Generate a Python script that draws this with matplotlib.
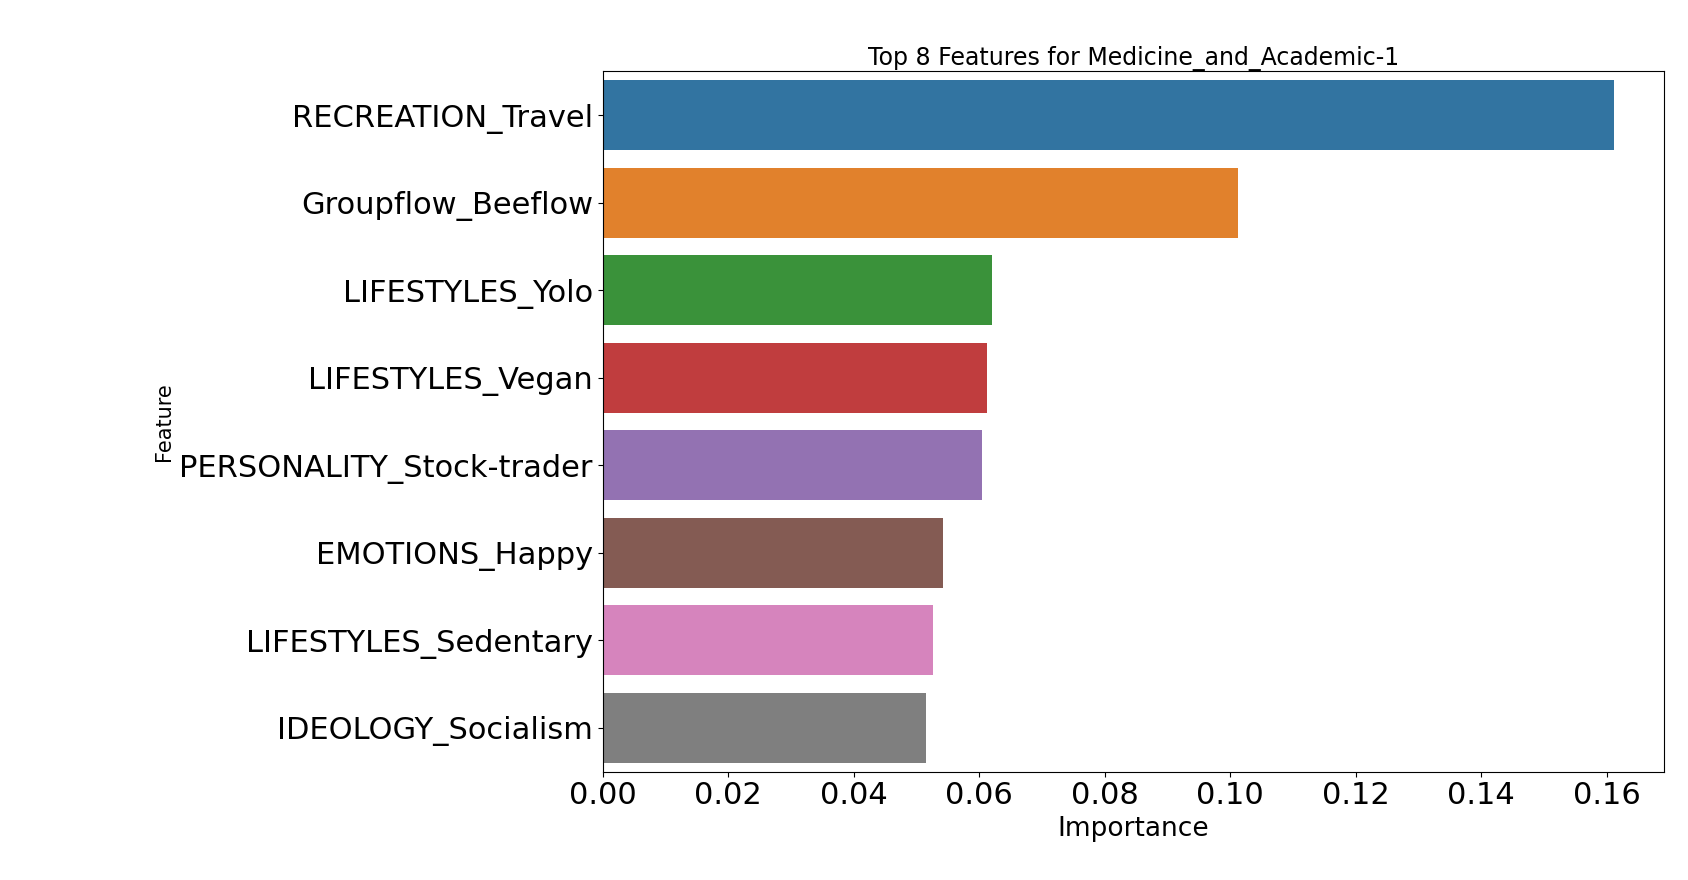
import matplotlib
matplotlib.use("Agg")
import matplotlib.pyplot as plt
import seaborn as sns
import pandas as pd

features = ["RECREATION_Travel", "Groupflow_Beeflow", "LIFESTYLES_Yolo", "LIFESTYLES_Vegan",
            "PERSONALITY_Stock-trader", "EMOTIONS_Happy", "LIFESTYLES_Sedentary", "IDEOLOGY_Socialism"]
importance = [0.1611, 0.1013, 0.0620, 0.0612, 0.0605, 0.0543, 0.0527, 0.0515]

df = pd.DataFrame({"Feature": features, "Importance": importance})

fig = plt.figure(figsize=(16.88, 8.8), dpi=100)
ax = fig.add_axes([0.357, 0.123, 0.629, 0.796])
sns.barplot(data=df, x="Importance", y="Feature", hue="Feature", palette="tab10",
            saturation=0.75, legend=False, ax=ax)
ax.set_title("Top 8 Features for Medicine_and_Academic-1", fontsize=17, pad=4)
ax.set_xlabel("Importance", fontsize=19)
ax.set_ylabel("Feature", fontsize=15)
ax.tick_params(axis="both", labelsize=22)
fig.savefig("out.png", dpi=100)
